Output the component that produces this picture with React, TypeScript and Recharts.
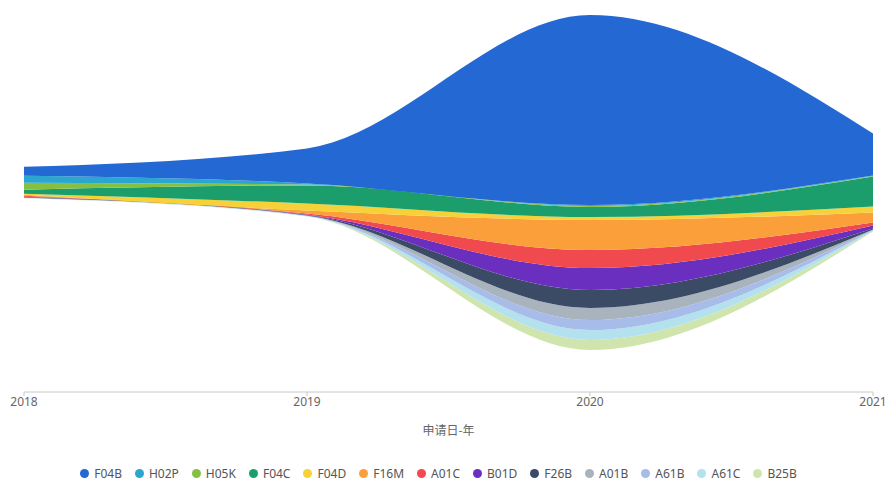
import React from 'react';
import { AreaChart, Area, XAxis, YAxis } from 'recharts';

// application years
const years = [2018, 2019, 2020, 2021];

// IPC subclasses, top of the stream first
const classNames = ['F04B', 'H02P', 'H05K', 'F04C', 'F04D', 'F16M', 'A01C', 'B01D', 'F26B', 'A01B', 'A61B', 'A61C', 'B25B'];
const classColors = ['#2468d4', '#2aa6cf', '#86c043', '#1b9e6c', '#f6d13a', '#fb9f3a', '#f04a4e', '#6b2fbf', '#3b4b66', '#a9b3be', '#a7bce8', '#b3e1ee', '#cfe5ad'];

// counts per year (2018..2021)
const F04B = [9, 35, 190, 42];
const H02P = [7, 1, 1, 0.5];
const H05K = [7, 1, 1, 0.5];
const F04C = [4, 18, 10, 30];
const F04D = [1, 7, 3, 6];
const F16M = [1, 3, 30, 10];
const A01C = [1, 1, 18, 3];
const B01D = [0.3, 0.5, 22, 3];
const F26B = [0.3, 0.5, 18, 1];
const A01B = [0.2, 0.3, 12, 0.5];
const A61B = [0.2, 0.3, 10, 0.5];
const A61C = [0.2, 0.3, 10, 0.5];
const B25B = [0.2, 0.3, 10, 0.5];

const classValues = [F04B, H02P, H05K, F04C, F04D, F16M, A01C, B01D, F26B, A01B, A61B, A61C, B25B];

const tableData = years.map((year, i) => {
  const row: Record<string, number> = { year };
  classNames.forEach((name, k) => {
    row[name] = classValues[k][i];
  });
  return row;
});

const LegendRow = () => (
  <div
    style={{
      position: 'absolute',
      top: 465,
      left: 0,
      width: 890,
      display: 'flex',
      justifyContent: 'center',
      fontFamily: '"Noto Sans", sans-serif',
      fontSize: 12,
      color: '#555',
    }}
  >
    {classNames.map((name, k) => (
      <div key={name} style={{ display: 'flex', alignItems: 'center', marginRight: 13 }}>
        <span
          style={{
            display: 'inline-block',
            width: 9,
            height: 9,
            borderRadius: '50%',
            background: classColors[k],
            marginRight: 5,
          }}
        />
        <span>{name}</span>
      </div>
    ))}
  </div>
);

export default function App() {
  // draw bottom layer first so F04B ends up on top
  const order = classNames.map((_, k) => k).reverse();

  return (
    <div style={{ position: 'absolute', top: 0, left: 0, width: 890, height: 481, background: '#fff' }}>
      <AreaChart
        width={890}
        height={481}
        data={tableData}
        stackOffset="silhouette"
        margin={{ top: 0, right: 17, bottom: 29, left: 24 }}
      >
        <XAxis
          dataKey="year"
          type="number"
          domain={[2018, 2021]}
          ticks={years}
          height={60}
          stroke="#c8c8c8"
          tickSize={4}
          tickMargin={1}
          tick={{ fill: '#666', fontSize: 12, fontFamily: '"Noto Sans", sans-serif' }}
          label={{
            value: '申请日-年',
            position: 'insideBottom',
            offset: 17,
            fill: '#666',
            fontSize: 12,
            fontFamily: '"Noto Sans CJK SC", sans-serif',
          }}
        />
        <YAxis hide domain={[-209.5, 182.5]} allowDataOverflow />
        {order.map((k) => (
          <Area
            key={classNames[k]}
            type="monotone"
            dataKey={classNames[k]}
            stackId="stream"
            stroke="none"
            fill={classColors[k]}
            fillOpacity={1}
            isAnimationActive={false}
          />
        ))}
      </AreaChart>
      <LegendRow />
    </div>
  );
}
